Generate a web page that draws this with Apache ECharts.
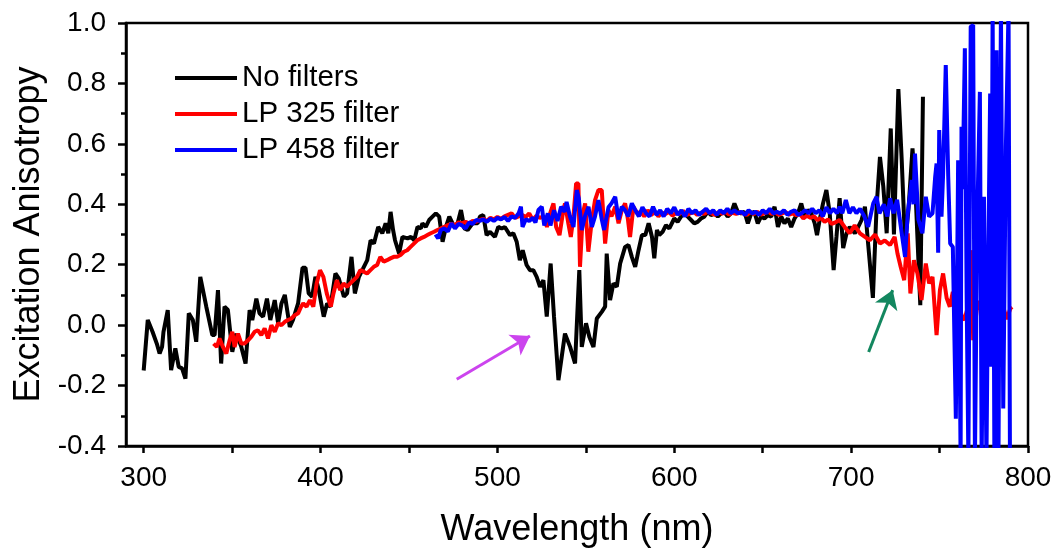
<!DOCTYPE html>
<html>
<head>
<meta charset="utf-8">
<script src="https://cdn.jsdelivr.net/npm/echarts@6/dist/echarts.min.js"></script>
<style>html,body{margin:0;padding:0;background:#fff}#c{width:1056px;height:556px}</style>
</head>
<body>
<div id="c"></div>
<script>
var seriesNames = ['No filters', 'LP 325 filter', 'LP 458 filter'];
var xTicks = [300, 400, 500, 600, 700, 800];
var xAllTicks = [300, 350, 400, 450, 500, 550, 600, 650, 700, 750, 800];

var noFilters = [[300,-0.15],[302.3,0.017],[305,-0.022],[307.4,-0.061],[309,-0.094],[310.4,-0.072],[311.2,-0.022],[313.6,0.05],[315.5,-0.149],[317.9,-0.077],[319.8,-0.138],[321.7,-0.143],[323.6,-0.177],[325.5,0.039],[327.8,0.017],[329.7,-0.055],[332,0.16],[335.4,0.061],[338.8,-0.033],[340.1,-0.033],[342,0.116],[343.8,-0.127],[345.7,0.061],[347.6,0.05],[350.1,-0.088],[352.3,-0.028],[355.2,-0.072],[357.6,-0.127],[359.9,0.05],[361.4,0.017],[363.7,0.088],[365.5,0.039],[367.5,0.028],[369.7,0.088],[371.6,0.017],[374.1,0.083],[376,0.006],[377.9,0.072],[379.8,0.1],[382.6,-0.006],[384.4,0.017],[387.3,0.072],[389.8,0.19],[391.5,0.19],[393.3,0.105],[395.2,0.094],[397.1,0.16],[399,0.116],[401.8,0.028],[403.7,0.072],[405.6,0.061],[408.4,0.171],[410.3,0.155],[413.2,0.094],[415,0.105],[417.5,0.226],[419.4,0.105],[421.7,0.16],[424.5,0.193],[426.4,0.215],[428.3,0.281],[430.2,0.27],[432.6,0.325],[434.9,0.304],[436.8,0.337],[438.3,0.304],[439.6,0.375],[441,0.315],[442.1,0.281],[444.4,0.237],[446.3,0.292],[449.2,0.287],[451.1,0.292],[453,0.281],[454.8,0.325],[456.7,0.32],[457.6,0.337],[459.5,0.325],[461.4,0.348],[463.3,0.359],[465.2,0.37],[467.1,0.359],[469,0.276],[470.9,0.325],[472.8,0.359],[475.6,0.325],[477.5,0.337],[479.4,0.381],[481.3,0.32],[483.2,0.315],[486,0.337],[488.8,0.337],[490.1,0.359],[492,0.364],[493.9,0.298],[495.8,0.309],[498.6,0.292],[500.5,0.325],[502.4,0.32],[504.2,0.325],[507.1,0.298],[509,0.304],[510.9,0.276],[512.7,0.215],[514.3,0.248],[516.5,0.199],[518.4,0.182],[520.3,0.182],[522.2,0.16],[524.1,0.127],[526,0.149],[527.9,0.028],[530.1,0.204],[532,0.028],[534.5,-0.182],[538.2,-0.028],[541.1,-0.072],[543.9,-0.127],[546.3,0.182],[547.7,-0.072],[550.1,0.006],[552,-0.039],[554.3,-0.072],[556.2,0.022],[559,0.044],[560.9,0.061],[561.8,0.237],[563.7,0.083],[565.6,0.138],[567.5,0.127],[569.4,0.204],[572.2,0.259],[574.1,0.265],[576,0.226],[577.9,0.193],[579.8,0.248],[581.7,0.298],[583.6,0.298],[585.5,0.337],[587.4,0.292],[588.7,0.221],[590.2,0.315],[591.5,0.298],[593.4,0.309],[595.3,0.331],[597.2,0.32],[600,0.353],[601.9,0.342],[603.8,0.359],[605.7,0.37],[607.6,0.359],[609.5,0.348],[611.3,0.337],[613.2,0.342],[615.1,0.353],[617,0.359],[618.9,0.375],[620.8,0.364],[622.7,0.37],[624.6,0.359],[626.5,0.37],[628.3,0.375],[630.2,0.359],[632.1,0.37],[634,0.403],[635.9,0.375],[637.8,0.37],[639.7,0.375],[641.6,0.337],[643.5,0.37],[645.3,0.375],[647.2,0.337],[649.1,0.359],[651,0.353],[652.9,0.364],[654.8,0.359],[656.7,0.392],[658.6,0.325],[660.5,0.359],[662.3,0.337],[664.2,0.353],[666.1,0.325],[668,0.353],[669.9,0.37],[671.8,0.403],[673.7,0.359],[675.6,0.381],[677.5,0.37],[679.4,0.337],[680.7,0.298],[682.2,0.348],[684.1,0.403],[686,0.447],[687.9,0.37],[690.1,0.182],[691.7,0.292],[693.5,0.42],[695.5,0.255],[697.4,0.304],[699.2,0.325],[702.1,0.304],[704,0.325],[705.9,0.348],[707.8,0.392],[709.6,0.27],[712.3,0.09],[714.4,0.392],[716.3,0.557],[718.2,0.458],[720.1,0.304],[722.4,0.651],[724.2,0.3],[726.7,0.781],[728.6,0.546],[730.5,0.27],[732.4,0.381],[734.7,0.585],[736.6,0.414],[739.1,0.066],[740.6,0.756]];

var lp325 = [[339.5,-0.061],[341.4,-0.072],[342.9,-0.044],[344.8,-0.072],[346.7,-0.094],[348.6,-0.05],[350.1,-0.022],[351.4,-0.072],[353.3,-0.028],[355.2,-0.061],[357,-0.061],[359,-0.05],[360.8,-0.039],[362.7,-0.022],[364.6,-0.017],[366.5,-0.033],[368.4,-0.011],[370.3,-0.044],[372.2,0],[374.1,-0.022],[376,0.006],[377.9,0],[379.8,0.011],[381.6,0.017],[383.5,0.022],[385.4,0.033],[387.3,0.039],[389,0.061],[390.2,0.072],[392.1,0.061],[394,0.083],[395.9,0.061],[397.8,0.138],[399.7,0.182],[401.6,0.16],[403.5,0.105],[405.8,0.061],[407.3,0.105],[409.2,0.149],[411.1,0.116],[413,0.138],[414.9,0.127],[416.8,0.138],[418.7,0.149],[420.6,0.16],[422.5,0.182],[424.4,0.177],[426.3,0.171],[428.2,0.182],[430.1,0.193],[432,0.199],[433.8,0.226],[435.7,0.21],[437.6,0.215],[439.5,0.221],[441.4,0.226],[443.3,0.226],[445.2,0.232],[447.1,0.243],[449,0.248],[450.9,0.259],[452.8,0.27],[454.7,0.281],[456.6,0.287],[458.5,0.292],[460.4,0.298],[462.3,0.304],[464.2,0.309],[466.1,0.315],[468,0.32],[470,0.325],[472,0.331],[474,0.335],[476,0.331],[478,0.34],[480,0.337],[482,0.342],[484,0.337],[486,0.345],[488,0.342],[490,0.348],[492,0.352],[494,0.345],[496,0.355],[498,0.35],[500,0.358],[502,0.352],[504,0.36],[506,0.365],[508,0.37],[510,0.355],[512,0.36],[514,0.365],[516,0.358],[518,0.37],[520,0.348],[522,0.362],[524,0.355],[526,0.36],[528,0.325],[529.8,0.37],[531.7,0.403],[533.2,0.325],[535.1,0.298],[537,0.37],[538.2,0.403],[540.1,0.337],[541.5,0.292],[543,0.359],[544.5,0.469],[545.8,0.469],[546.7,0.193],[548.3,0.37],[549.6,0.403],[551.4,0.243],[553.4,0.348],[555.2,0.414],[557.1,0.447],[559,0.447],[560.9,0.27],[562.8,0.381],[564.5,0.36],[566.6,0.392],[568.5,0.337],[570.3,0.38],[572.2,0.403],[573.8,0.35],[575,0.292],[576.9,0.392],[579,0.37],[581,0.375],[583,0.36],[585,0.38],[587,0.365],[589,0.375],[591,0.36],[593,0.372],[595,0.368],[597,0.375],[599,0.362],[601,0.372],[603,0.368],[605,0.378],[607,0.365],[609,0.37],[611,0.375],[613,0.365],[615,0.372],[617,0.368],[619,0.376],[621,0.37],[623,0.365],[625,0.374],[627,0.369],[629,0.375],[631,0.366],[633,0.372],[635,0.368],[637,0.374],[639,0.37],[641,0.365],[643,0.373],[645,0.368],[647,0.375],[649,0.366],[651,0.371],[653,0.376],[655,0.368],[657,0.373],[659,0.365],[661,0.37],[663,0.374],[665,0.366],[667,0.37],[669,0.364],[671,0.368],[673,0.353],[675,0.362],[677,0.355],[679,0.36],[681,0.348],[683,0.355],[685,0.342],[687,0.35],[689,0.335],[691,0.34],[693.5,0.348],[696.3,0.325],[699.2,0.304],[702,0.33],[705,0.304],[707.8,0.292],[710.6,0.281],[713.5,0.3],[716.3,0.27],[719,0.28],[722,0.265],[724.6,0.292],[726.2,0.237],[728,0.193],[730,0.149],[732,0.304],[733.5,0.105],[735.5,0.215],[737.5,0.171],[739.8,0.083],[742.2,0.204],[744.1,0.138],[746,0.16],[748.3,-0.033],[750.2,0.116],[752,0.171],[754,0.09],[755.8,0.061],[757.5,0.11],[759,0.05],[761,0.08],[762.5,0.03],[764,0.017],[766,0.06],[768,0.248],[769,-0.05],[771,0.05],[773,0.08],[775,0.02],[777,0.07],[779,0.03],[781,0.09],[783,0.105],[784.5,0],[786,0.06],[788,0.02],[790,0.055],[791,0.06]];

var lp458 = [[465,0.3],[466.5,0.287],[468,0.315],[470,0.32],[472,0.31],[474,0.337],[476,0.32],[478,0.335],[480,0.33],[482,0.32],[484,0.34],[486,0.335],[488,0.348],[490,0.345],[492,0.35],[494,0.342],[496,0.352],[498,0.345],[500,0.355],[502,0.35],[504,0.358],[506,0.345],[508,0.36],[510,0.355],[512,0.37],[513.3,0.392],[514.2,0.325],[516,0.35],[518,0.345],[520,0.355],[521.5,0.34],[523.2,0.381],[525.1,0.392],[526.5,0.33],[528.5,0.37],[530,0.33],[532,0.38],[534,0.345],[536,0.392],[538,0.375],[539.1,0.408],[541,0.36],[543,0.325],[544.9,0.447],[546,0.42],[547.7,0.315],[549.5,0.36],[551.5,0.392],[553.4,0.325],[555.2,0.36],[557.1,0.414],[559,0.35],[560.3,0.315],[562.8,0.39],[564.5,0.403],[566.6,0.425],[568.5,0.35],[570.3,0.392],[572.2,0.38],[574,0.36],[576,0.403],[578,0.38],[580,0.36],[582,0.39],[584,0.37],[586,0.36],[588,0.392],[590,0.365],[592,0.38],[594,0.36],[596,0.385],[598,0.37],[600,0.39],[602,0.365],[604,0.38],[606,0.36],[608,0.385],[610,0.37],[612,0.38],[614,0.365],[616,0.375],[618,0.385],[620,0.37],[622,0.38],[624,0.365],[626,0.38],[628,0.37],[630,0.385],[632,0.37],[634,0.38],[636,0.37],[638,0.375],[640,0.365],[642,0.38],[644,0.37],[646,0.375],[648,0.365],[650,0.38],[652,0.37],[654,0.385],[656,0.37],[658,0.375],[660,0.37],[662,0.38],[664,0.365],[666,0.375],[668,0.38],[670,0.365],[672,0.37],[674,0.38],[676,0.37],[678,0.385],[680,0.37],[682,0.38],[684,0.36],[686,0.39],[688,0.37],[690,0.385],[692,0.37],[693.5,0.392],[695,0.37],[697,0.414],[699,0.37],[701,0.39],[703,0.37],[705,0.385],[707.5,0.36],[709.6,0.325],[712.5,0.403],[714.4,0.425],[716,0.37],[718.5,0.4],[720.5,0.36],[722,0.42],[724,0.37],[726,0.415],[728.6,0.304],[730.5,0.226],[732,0.37],[734.3,0.48],[735.2,0.4],[736.1,0.568],[738,0.35],[740.3,0.304],[742.2,0.425],[744.1,0.359],[746,0.37],[747.5,0.49],[748.3,0.535],[749.2,0.24],[749.8,0.646],[751.1,0.359],[752,0.5],[753.5,0.861],[754.9,0.491],[756,0.27],[757.5,0.259],[759.2,-0.31],[760.5,0.546],[761.9,-0.45],[762.4,0.657],[763,0.45],[764.3,0.916],[765.3,0.1],[766.3,-0.45],[767.6,0.988],[769,0.993],[770,-0.45],[771.3,0.348],[772.8,0.772],[773.8,-0.45],[775.1,0.425],[776.5,-0.45],[777.5,0.2],[778.6,0.767],[779.2,-0.138],[780,1.05],[781,-0.45],[782.2,0.91],[783.3,-0.45],[784.7,1.05],[786,-0.276],[787.5,0.59],[789,1.05],[789.8,-0.45]];

var arrows = [
  { from: [477, -0.179], to: [518.4, -0.036], color: '#cc44ee' },
  { from: [709.9, -0.089], to: [723.5, 0.116], color: '#13875f' }
];

var FONT = '"Liberation Sans", Arial, sans-serif';
var chart = echarts.init(document.getElementById('c'), null, { renderer: 'canvas' });

var axisLineStyle = { color: '#000', width: 2.5 };

var option = {
  animation: false,
  backgroundColor: '#fff',
  textStyle: { fontFamily: FONT, color: '#000' },
  grid: { left: 126, right: 28, top: 23, bottom: 110, show: true, borderColor: '#000', borderWidth: 2.5, backgroundColor: 'transparent' },
  legend: {
    orient: 'vertical', left: 170, top: 58, itemGap: 6,
    itemWidth: 62, itemHeight: 4, icon: 'rect',
    textStyle: { fontSize: 29.5, fontFamily: FONT, color: '#000', lineHeight: 30 },
    data: seriesNames
  },
  xAxis: [{
    type: 'value', min: 290, max: 800,
    name: 'Wavelength (nm)', nameLocation: 'middle', nameGap: 66,
    nameTextStyle: { fontSize: 36, fontFamily: FONT, color: '#000' },
    axisLine: { show: true, onZero: false, lineStyle: axisLineStyle },
    axisTick: { show: true, inside: false, length: 7, customValues: xAllTicks, lineStyle: { color: '#000', width: 2.5 } },
    axisLabel: { show: true, customValues: xTicks, fontSize: 28, fontFamily: FONT, color: '#000', margin: 18 },
    splitLine: { show: false }
  }],
  yAxis: [{
    type: 'value', min: -0.4, max: 1.0, interval: 0.2,
    name: 'Excitation Anisotropy', nameLocation: 'middle', nameGap: 76,
    nameTextStyle: { fontSize: 36, fontFamily: FONT, color: '#000' },
    axisLine: { show: true, onZero: false, lineStyle: axisLineStyle },
    axisTick: { show: true, inside: false, length: 8, lineStyle: { color: '#000', width: 2.5 } },
    minorTick: { show: true, splitNumber: 2, length: 5, lineStyle: { color: '#000', width: 2.5 } },
    axisLabel: {
      fontSize: 28, fontFamily: FONT, color: '#000', margin: 20,
      formatter: function (v) { if (Math.abs(v) < 1e-9) v = 0; return v.toFixed(1); }
    },
    splitLine: { show: false }, minorSplitLine: { show: false }
  }],
  series: [{
    name: seriesNames[0], type: 'line', data: noFilters, showSymbol: false, symbol: 'none',
    lineStyle: { color: '#000000', width: 4 }, itemStyle: { color: '#000000' }, z: 2,
    markLine: {
      silent: true, animation: false, symbol: ['none', 'arrow'], symbolSize: 18,
      label: { show: false },
      data: arrows.map(function (a) {
        return [{ coord: a.from, lineStyle: { color: a.color, width: 3, type: 'solid' }, itemStyle: { color: a.color } },
                { coord: a.to }];
      })
    }
  }, {
    name: seriesNames[1], type: 'line', data: lp325, showSymbol: false, symbol: 'none',
    lineStyle: { color: '#ff0000', width: 4 }, itemStyle: { color: '#ff0000' }, z: 3
  }, {
    name: seriesNames[2], type: 'line', data: lp458, showSymbol: false, symbol: 'none',
    lineStyle: { color: '#0000ff', width: 4 }, itemStyle: { color: '#0000ff' }, z: 4
  }]
};
chart.setOption(option);
</script>
</body>
</html>
